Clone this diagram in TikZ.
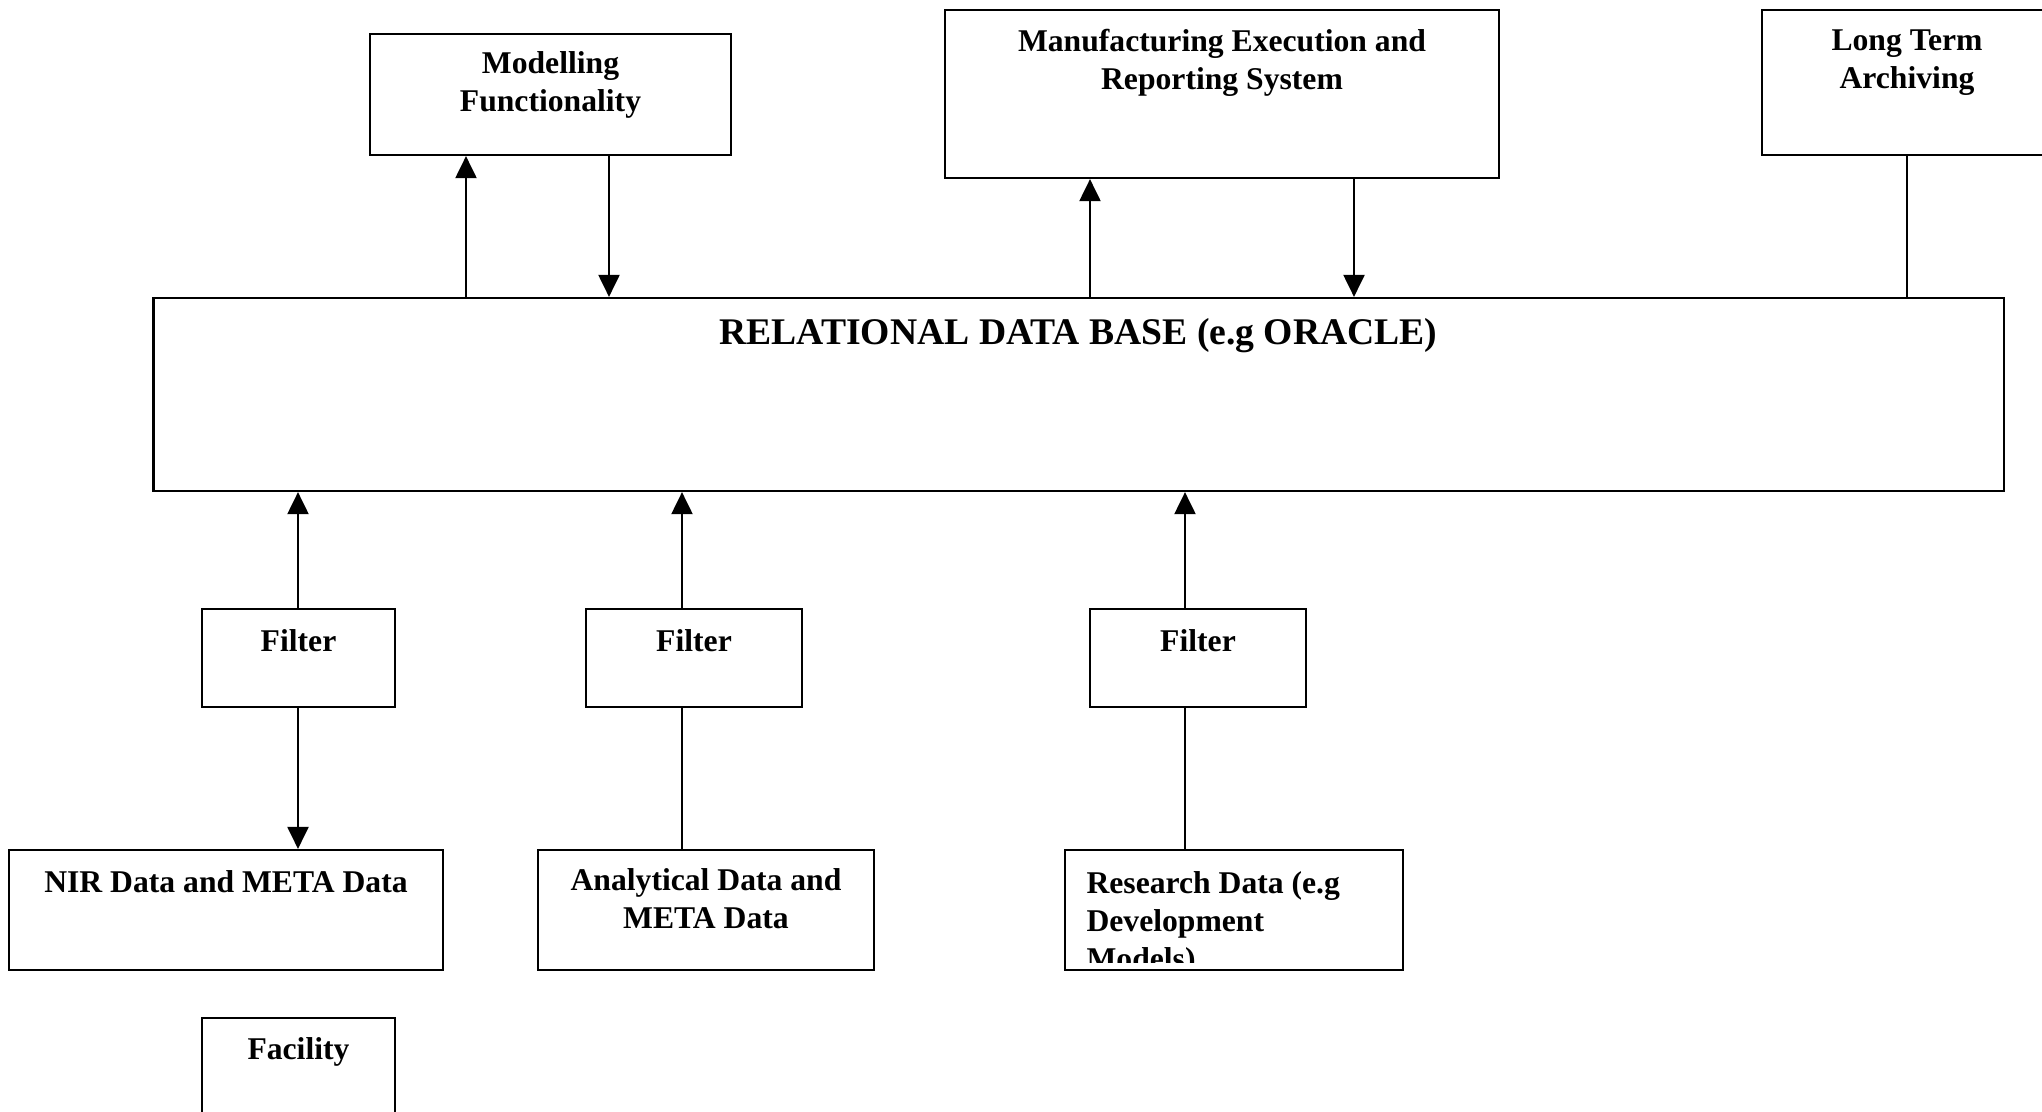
\documentclass[tikz,border=0pt]{standalone}
\usepackage{fontspec}
\setmainfont{Liberation Serif}
\usetikzlibrary{arrows.meta,positioning}

\tikzset{
  box/.style={draw,line width=0.6pt,inner sep=0pt},
  txt/.style={font=\fontsize{9}{10.8}\selectfont\bfseries,inner sep=0pt,align=center,anchor=north},
  arr/.style={line width=0.6pt,-{Triangle[width=0.21cm,length=0.22cm]}},
  ln/.style={line width=0.6pt}
}

\begin{document}
\begin{tikzpicture}[x=0.01cm,y=-0.01cm]
        \useasboundingbox (0,0) rectangle (2042,1111);

        \coordinate (cMod) at (550.5,94.5);
        \coordinate (cMes) at (1222,94);
        \coordinate (cLta) at (1907,82.5);
        \coordinate (cRdb) at (1078.5,394.5);
        \coordinate (cF1) at (298.5,658);
        \coordinate (cF2) at (694,658);
        \coordinate (cF3) at (1198,658);
        \coordinate (cNir) at (226,910);
        \coordinate (cAna) at (706,910);
        \coordinate (cRes) at (1234,910);
        \coordinate (cFac) at (298.5,1067);

        % x positions of the connectors
        \coordinate (xMod1) at (466,0);
        \coordinate (xMod2) at (609,0);
        \coordinate (xMes1) at (1090,0);
        \coordinate (xMes2) at (1354,0);
        \coordinate (xLta) at (1907,0);
        \coordinate (xF1) at (298,0);
        \coordinate (xF2) at (682,0);
        \coordinate (xF3) at (1185,0);

        \node[box,minimum width=3.61cm,minimum height=1.21cm] (Mod) at (cMod){};
        \node[box,minimum width=5.54cm,minimum height=1.68cm] (Mes) at (cMes){};
        \node[box,minimum width=2.90cm,minimum height=1.45cm] (Lta) at (cLta){};
        \node[box,minimum width=18.49cm,minimum height=1.93cm] (Rdb) at (cRdb){};
        \node[box,minimum width=1.93cm,minimum height=0.98cm] (F1) at (cF1){};
        \node[box,minimum width=2.16cm,minimum height=0.98cm] (F2) at (cF2){};
        \node[box,minimum width=2.16cm,minimum height=0.98cm] (F3) at (cF3){};
        \node[box,minimum width=4.34cm,minimum height=1.20cm] (Nir) at (cNir){};
        \node[box,minimum width=3.36cm,minimum height=1.20cm] (Ana) at (cAna){};
        \node[box,minimum width=3.38cm,minimum height=1.20cm] (Res) at (cRes){};
        \node[box,minimum width=1.93cm,minimum height=0.98cm] (Fac) at (cFac){};

        \node[txt] (tMod) at ([yshift=-0.18cm]Mod.north){Modelling\\Functionality};
        \node[txt] (tMes) at ([yshift=-0.2cm]Mes.north){Manufacturing Execution and\\Reporting System};
        \node[txt] (tLta) at ([yshift=-0.2cm]Lta.north){Long Term\\Archiving};
        \node[txt,font=\fontsize{10.7}{12.5}\selectfont\bfseries] (tRdb) at ([yshift=-0.21cm]Rdb.north){RELATIONAL DATA BASE (e.g ORACLE)};
        \node[txt] (tF1) at ([yshift=-0.21cm]F1.north){Filter};
        \node[txt] (tF2) at ([yshift=-0.21cm]F2.north){Filter};
        \node[txt] (tF3) at ([yshift=-0.21cm]F3.north){Filter};
        \node[txt] (tNir) at ([yshift=-0.21cm]Nir.north){NIR Data and META Data};
        \node[txt] (tAna) at ([yshift=-0.19cm]Ana.north){Analytical Data and\\META Data};
        \begin{scope}
          \clip (Res.north west) rectangle ([yshift=0.09cm]Res.south east);
          \node[txt,align=left,anchor=north west] (tRes) at ([xshift=0.22cm,yshift=-0.22cm]Res.north west){Research Data (e.g\\Development\\Models)};
        \end{scope}
        \node[txt] (tFac) at ([yshift=-0.2cm]Fac.north){Facility};

        \draw[arr] (Rdb.north -| xMod1) -- (Mod.south -| xMod1);
        \draw[arr] (Mod.south -| xMod2) -- (Rdb.north -| xMod2);
        \draw[arr] (Rdb.north -| xMes1) -- (Mes.south -| xMes1);
        \draw[arr] (Mes.south -| xMes2) -- (Rdb.north -| xMes2);
        \draw[ln] (Lta.south -| xLta) -- (Rdb.north -| xLta);

        \draw[arr] (F1.north -| xF1) -- (Rdb.south -| xF1);
        \draw[arr] (F2.north -| xF2) -- (Rdb.south -| xF2);
        \draw[arr] (F3.north -| xF3) -- (Rdb.south -| xF3);
        \draw[arr] (F1.south -| xF1) -- (Nir.north -| xF1);
        \draw[ln] (F2.south -| xF2) -- (Ana.north -| xF2);
        \draw[ln] (F3.south -| xF3) -- (Res.north -| xF3);
\end{tikzpicture}
\end{document}
